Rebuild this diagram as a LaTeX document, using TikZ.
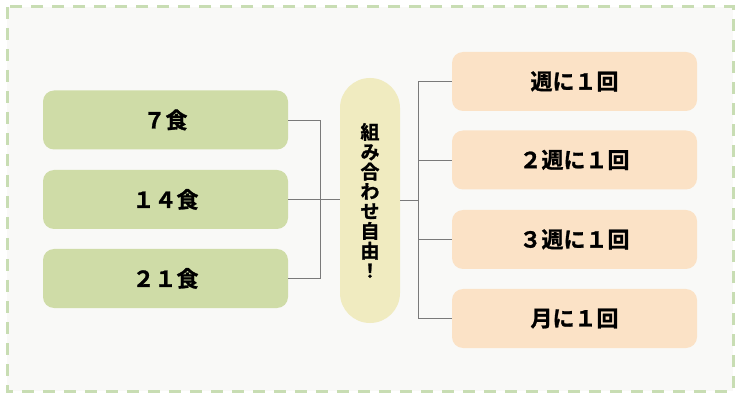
\documentclass[tikz,border=0pt]{standalone}
\usepackage{fontspec}
\newfontfamily\jp{Noto Sans CJK JP}[BoldFont={Noto Sans CJK JP Bold},BoldFeatures={FakeBold=1.2}]
\definecolor{framegreen}{HTML}{C8DDB3}
\definecolor{bgpaper}{HTML}{F9F9F7}
\definecolor{mealgreen}{HTML}{CFDCA7}
\definecolor{pillyellow}{HTML}{F0EBC0}
\definecolor{freqorange}{HTML}{FBE2C6}
\definecolor{linegray}{HTML}{7A7A7A}
\begin{document}
\begin{tikzpicture}[x=1pt,y=-1pt,
  meal/.style={fill=mealgreen,rounded corners=11pt,minimum width=245pt,minimum height=59pt,inner sep=0pt,font=\jp\bfseries\fontsize{22}{24}\selectfont,text=black},
  freq/.style={fill=freqorange,rounded corners=11pt,minimum width=245pt,minimum height=59pt,inner sep=0pt,font=\jp\bfseries\fontsize{22}{24}\selectfont,text=black},
  pill/.style={fill=pillyellow,rounded corners=30pt,minimum width=60pt,minimum height=245pt,inner sep=0pt,align=center,font=\jp\bfseries\fontsize{19}{19.8}\selectfont,text=black},
  link/.style={draw=linegray,line width=0.9pt},
  frame/.style={draw=framegreen,line width=3pt,dash pattern=on 12pt off 9pt}]
\useasboundingbox (0,0) rectangle (744,403);
\fill[white] (0,0) rectangle (744,403);
\fill[bgpaper] (7,7) rectangle (733,391);
\draw[frame] (7,7) rectangle (733,391);
% left meal boxes
\node[meal] (m1) at (165.5,120) {７食};
\node[meal] (m2) at (165.5,199.5) {１４食};
\node[meal] (m3) at (165.5,278.5) {２１食};
% centre pill
\node[pill] (p) at (370,200.5) {組\\み\\合\\わ\\せ\\自\\由\\！};
% right frequency boxes
\node[freq] (f1) at (574.5,81.5) {週に１回};
\node[freq] (f2) at (574.5,160) {２週に１回};
\node[freq] (f3) at (574.5,239.5) {３週に１回};
\node[freq] (f4) at (574.5,318.5) {月に１回};
% connectors
\coordinate (jl) at (320,200);
\coordinate (jr) at (418,200);
\draw[link] (m1.east) -- (m1.east -| jl) -- (m3.east -| jl) -- (m3.east);
\draw[link] (m2.east) -- (p.west |- m2.east);
\draw[link] (p.east |- jr) -- (jr);
\draw[link] (f1.west) -- (f1.west -| jr) -- (f4.west -| jr) -- (f4.west);
\draw[link] (f2.west) -- (f2.west -| jr);
\draw[link] (f3.west) -- (f3.west -| jr);
\end{tikzpicture}
\end{document}
